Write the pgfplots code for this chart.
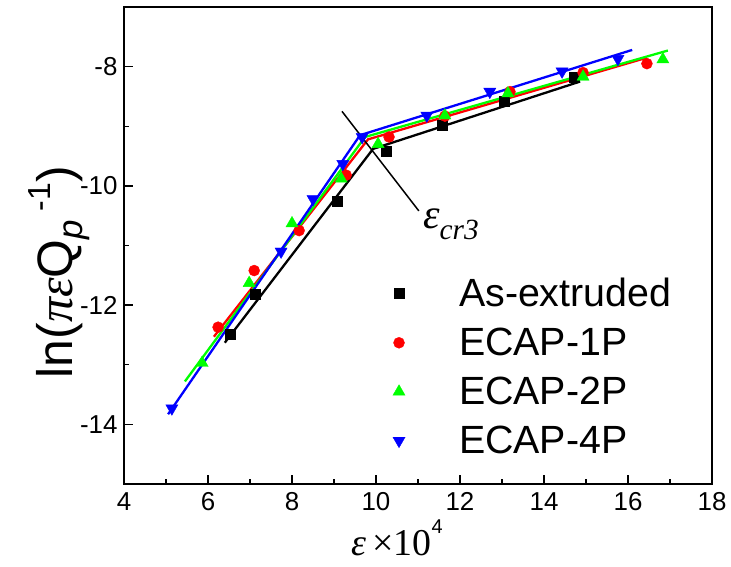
\documentclass[border=0pt]{standalone}
\usepackage{pgfplots}
\pgfplotsset{compat=1.18}
\usepackage{fontspec}
\setmainfont{Liberation Sans}
\newfontfamily\tms{Liberation Serif}
\definecolor{grn}{RGB}{0,255,0}

\begin{document}
\begin{tikzpicture}
\begin{axis}[
  scale only axis, width=588bp, height=477bp,
  xmin=4, xmax=18, ymin=-15, ymax=-7,
  xtick={4,6,...,18}, ytick={-14,-12,-10,-8},
  yticklabels={-14,-12,-10,-8},
  minor x tick num=1, minor y tick num=1,
  tick align=inside, xtick pos=bottom, ytick pos=left,
  major tick length=9bp, minor tick length=5bp,
  axis line style={line width=1.3bp},
  every tick/.append style={black, line width=1.3bp},
  tick label style={font=\fontsize{26}{28}\selectfont},
  /pgf/number format/assume math mode=true,
  xticklabel style={yshift=-5bp},
  yticklabel style={xshift=-3bp},
  xlabel={{\tms\itshape ε}\,{\tms ×10}\raisebox{22bp}{\fontsize{20}{20}\selectfont 4}},
  xlabel style={at={(axis description cs:0.5,0)}, anchor=base, yshift=-71bp, xshift=-21bp,
    font=\fontsize{38}{40}\selectfont},
  ylabel={ln({\tms\itshape πε}Q\textsubscript{\textit{p}}\,\raisebox{22bp}{\fontsize{32}{32}\selectfont -1})},
  ylabel style={at={(axis description cs:-0.168,0.444)}, anchor=north,
    font=\fontsize{50}{52}\selectfont},
  legend style={draw=none, fill=none, font=\fontsize{39.5}{41}\selectfont,
    at={(rel axis cs:0.452,0.44)}, anchor=north west, row sep=16bp,
    /tikz/every odd column/.append style={column sep=52bp}},
  legend cell align=left,
  clip=false,
]
% fitted lines
\addplot[black, line width=2.3bp, forget plot] coordinates {(6.40,-12.63) (9.93,-9.38) (14.86,-8.25)};
\addplot[red, line width=2.3bp, forget plot] coordinates {(6.14,-12.53) (9.81,-9.22) (16.45,-7.85)};
\addplot[grn, line width=2.3bp, forget plot] coordinates {(5.45,-13.28) (9.74,-9.18) (16.95,-7.73)};
\addplot[blue, line width=2.3bp, forget plot] coordinates {(5.05,-13.83) (9.62,-9.15) (16.10,-7.72)};

% measured points
\addplot[only marks, mark=square*, mark size=5bp, black] coordinates {
  (6.52,-12.48) (7.12,-11.82) (9.07,-10.25) (10.24,-9.42) (11.57,-8.98) (13.05,-8.58) (14.71,-8.18)};
\addlegendentry{As-extruded}
\addplot[only marks, mark=*, mark size=5.5bp, red] coordinates {
  (6.24,-12.37) (7.10,-11.42) (8.17,-10.75) (9.29,-9.82) (10.31,-9.18) (11.64,-8.83) (13.19,-8.42) (14.93,-8.10) (16.45,-7.95)};
\addlegendentry{ECAP-1P}
\addplot[only marks, mark=triangle*, mark size=7bp, grn] coordinates {
  (5.86,-12.97) (6.98,-11.63) (8.00,-10.63) (9.17,-9.88) (10.05,-9.30) (11.64,-8.82) (13.14,-8.45) (14.93,-8.17) (16.83,-7.88)};
\addlegendentry{ECAP-2P}
\addplot[only marks, mark=triangle*, mark size=7bp, blue, mark options={rotate=180}] coordinates {
  (5.14,-13.73) (7.74,-11.10) (8.50,-10.22) (9.21,-9.63) (9.67,-9.18) (11.21,-8.82) (12.71,-8.42) (14.43,-8.08) (15.76,-7.87)};
\addlegendentry{ECAP-4P}

% critical strain marker
\addplot[black, line width=1.5bp, forget plot] coordinates {(9.19,-8.75) (11.02,-10.42)};
\node[anchor=base west, inner sep=0pt, font=\fontsize{42}{42}\selectfont]
  at (axis cs:11.12,-10.72) {\tms\itshape ε\textsubscript{cr3}};
\end{axis}
\path (current axis.south west) ++(-124bp,-83bp);
\path (current axis.north east) ++(19bp,7bp);
\end{tikzpicture}
\end{document}
